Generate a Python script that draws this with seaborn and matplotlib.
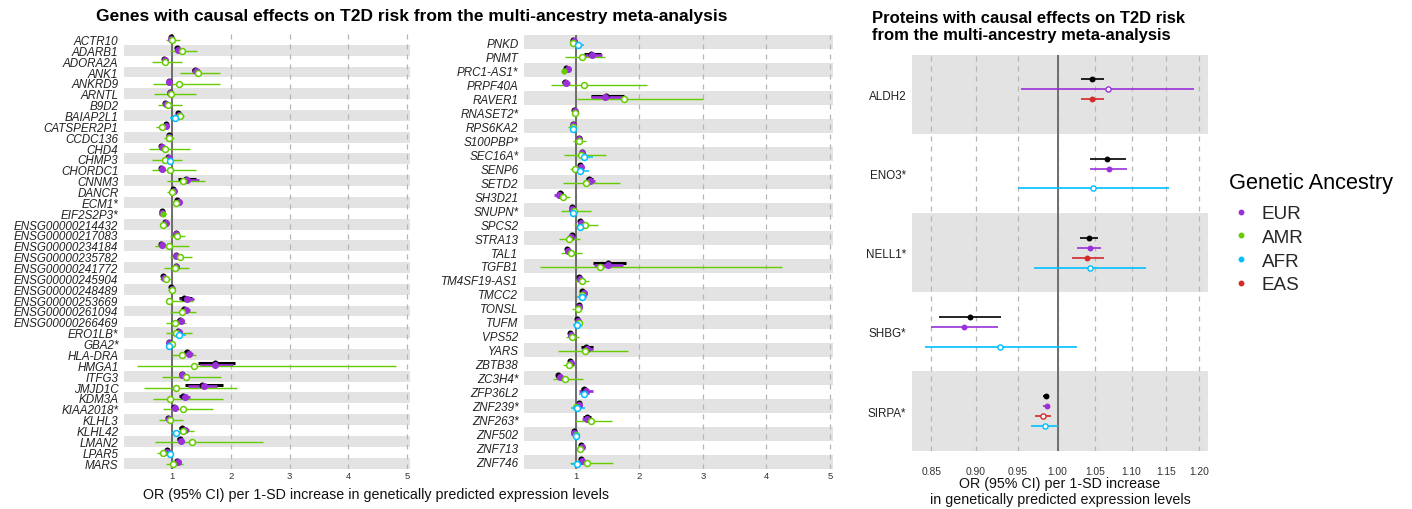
import numpy as np
import pandas as pd
import matplotlib
matplotlib.use("Agg")
import matplotlib.pyplot as plt
from matplotlib.lines import Line2D
import seaborn as sns

sns.set_theme(style="white")
plt.rcParams['font.family'] = ['Liberation Sans', 'DejaVu Sans']

nan = np.nan

# ---------------- Panel 1 (genes A-M) ----------------
genes1 = ["ACTR10", "ADARB1", "ADORA2A", "ANK1", "ANKRD9", "ARNTL", "B9D2", "BAIAP2L1",
          "CATSPER2P1", "CCDC136", "CHD4", "CHMP3", "CHORDC1", "CNNM3", "DANCR", "ECM1*",
          "EIF2S2P3*", "ENSG00000214432", "ENSG00000217083", "ENSG00000234184",
          "ENSG00000235782", "ENSG00000241772", "ENSG00000245904", "ENSG00000248489",
          "ENSG00000253669", "ENSG00000261094", "ENSG00000266469", "ERO1LB*", "GBA2*",
          "HLA-DRA", "HMGA1", "ITFG3", "JMJD1C", "KDM3A", "KIAA2018*", "KLHL3", "KLHL42",
          "LMAN2", "LPAR5", "MARS"]
meta1_or = [0.98, 1.08, 0.86, 1.39, 0.94, 0.96, 0.88, 1.10, 0.89, 0.94, 0.81, 0.93, 0.81, 1.24, 1.02, 1.09,
            0.83, 0.88, 1.06, 0.81, 1.06, 1.06, 0.85, 0.98, 1.20, 1.20, 1.13, 1.10, 0.94, 1.26, 1.73, 1.16,
            1.50, 1.19, 1.03, 0.93, 1.16, 1.13, 0.91, 1.09]
meta1_lo = [0.95, 1.04, 0.83, 1.33, 0.91, 0.93, 0.85, 1.07, 0.86, 0.91, 0.78, 0.90, 0.78, 1.10, 0.99, 1.06,
            0.81, 0.85, 1.03, 0.78, 1.03, 1.03, 0.82, 0.95, 1.12, 1.15, 1.09, 1.07, 0.91, 1.21, 1.44, 1.12,
            1.22, 1.12, 1.00, 0.90, 1.11, 1.09, 0.88, 1.06]
meta1_hi = [1.01, 1.12, 0.89, 1.45, 0.97, 0.99, 0.91, 1.13, 0.92, 0.97, 0.84, 0.96, 0.84, 1.41, 1.05, 1.12,
            0.86, 0.91, 1.09, 0.84, 1.09, 1.09, 0.88, 1.01, 1.34, 1.26, 1.17, 1.13, 0.97, 1.31, 2.07, 1.20,
            1.86, 1.26, 1.06, 0.96, 1.21, 1.17, 0.94, 1.12]
eur1_or = [0.985, 1.10, 0.87, 1.41, 0.95, 0.97, 0.89, 1.11, 0.90, 0.95, 0.82, 0.94, 0.82, 1.26, 1.03, 1.11,
           0.835, 0.89, 1.07, 0.82, 1.07, 1.07, 0.86, 0.99, 1.26, 1.23, 1.15, 1.11, 0.95, 1.29, 1.73, 1.17,
           1.55, 1.22, 1.04, 0.94, 1.22, 1.15, 0.92, 1.10]
eur1_lo = [0.95, 1.05, 0.83, 1.34, 0.91, 0.93, 0.85, 1.07, 0.86, 0.92, 0.78, 0.90, 0.78, 1.13, 0.99, 1.07,
           0.81, 0.86, 1.03, 0.78, 1.03, 1.03, 0.82, 0.95, 1.13, 1.17, 1.10, 1.07, 0.92, 1.23, 1.47, 1.13,
           1.27, 1.14, 1.00, 0.90, 1.13, 1.10, 0.88, 1.06]
eur1_hi = [1.02, 1.14, 0.90, 1.48, 0.98, 1.00, 0.92, 1.15, 0.93, 0.98, 0.86, 0.97, 0.86, 1.45, 1.06, 1.15,
           0.86, 0.92, 1.11, 0.86, 1.11, 1.11, 0.90, 1.02, 1.38, 1.30, 1.20, 1.15, 0.98, 1.35, 2.04, 1.22,
           1.76, 1.30, 1.08, 0.97, 1.28, 1.20, 0.95, 1.14]
amr1_or = [1.00, 1.165, 0.875, 1.44, 1.11, 0.98, 0.93, 1.13, 0.83, 0.95, 0.88, 0.875, 0.96, 1.18, 0.99, 1.06,
           0.84, 0.85, 1.08, 0.95, 1.14, 1.04, 0.90, 1.00, 0.95, 1.165, 1.04, 1.06, 0.99, 1.17, 1.375, 1.23,
           1.06, 0.97, 1.19, 0.955, 1.19, 1.335, 0.84, 1.02]
amr1_lo = [0.89, 0.97, 0.66, 1.13, 0.68, 0.69, 0.76, 1.05, 0.73, 0.86, 0.60, 0.66, 0.66, 0.91, 0.92, 1.00,
           0.79, 0.80, 0.96, 0.71, 0.97, 0.86, 0.80, 0.93, 0.89, 0.97, 0.89, 0.89, 0.94, 0.99, 0.40, 0.83,
           0.52, 0.68, 0.85, 0.78, 1.02, 0.71, 0.74, 0.89]
amr1_hi = [1.13, 1.43, 1.16, 1.81, 1.82, 1.40, 1.16, 1.20, 0.88, 1.03, 1.31, 1.16, 1.41, 1.56, 1.04, 1.13,
           0.89, 0.90, 1.22, 1.28, 1.34, 1.28, 0.98, 1.05, 1.36, 1.41, 1.23, 1.33, 1.02, 1.41, 4.82, 1.84,
           2.11, 1.86, 1.69, 1.18, 1.375, 2.55, 0.89, 1.18]
amr1_filled = ["EIF2S2P3*"]
afr1_genes = ["BAIAP2L1", "CHMP3", "ERO1LB*", "GBA2*", "KLHL42", "LPAR5"]
afr1_or = [1.04, 0.955, 1.125, 0.94, 1.07, 0.96]
afr1_lo = [0.97, 0.92, 1.02, 0.90, 0.98, 0.90]
afr1_hi = [1.07, 0.99, 1.23, 0.97, 1.16, 1.02]

# ---------------- Panel 2 (genes P-Z) ----------------
genes2 = ["PNKD", "PNMT", "PRC1-AS1*", "PRPF40A", "RAVER1", "RNASET2*", "RPS6KA2", "S100PBP*", "SEC16A*",
          "SENP6", "SETD2", "SH3D21", "SNUPN*", "SPCS2", "STRA13", "TAL1", "TGFB1", "TM4SF19-AS1", "TMCC2",
          "TONSL", "TUFM", "VPS52", "YARS", "ZBTB38", "ZC3H4*", "ZFP36L2", "ZNF239*", "ZNF263*", "ZNF502",
          "ZNF713", "ZNF746"]
meta2_or = [0.96, 1.23, 0.84, 0.82, 1.48, 0.97, 0.96, 1.04, 1.09, 1.07, 1.21, 0.75, 0.93, 1.07, 0.93, 0.86,
            1.50, 1.05, 1.10, 1.05, 1.02, 0.91, 1.16, 0.91, 0.72, 1.13, 1.04, 1.17, 0.97, 1.08, 1.08]
meta2_lo = [0.94, 1.12, 0.81, 0.78, 1.24, 0.95, 0.94, 1.02, 1.06, 1.04, 1.16, 0.70, 0.90, 1.04, 0.90, 0.83,
            1.26, 1.02, 1.06, 1.02, 1.00, 0.88, 1.08, 0.89, 0.68, 1.08, 1.01, 1.11, 0.95, 1.05, 1.05]
meta2_hi = [0.99, 1.39, 0.87, 0.88, 1.75, 0.99, 0.99, 1.07, 1.12, 1.10, 1.27, 0.79, 0.96, 1.10, 0.96, 0.89,
            1.79, 1.08, 1.14, 1.08, 1.05, 0.94, 1.27, 0.94, 0.77, 1.18, 1.07, 1.23, 0.99, 1.11, 1.11]
eur2_or = [0.97, 1.25, 0.87, 0.84, 1.455, 0.98, 0.96, 1.045, 1.09, 1.075, 1.22, 0.73, 0.93, 1.075, 0.92, 0.87,
           1.50, 1.06, 1.13, 1.05, 1.03, 0.92, 1.18, 0.915, 0.74, 1.15, 1.045, 1.17, 0.97, 1.10, 1.09]
eur2_lo = [0.94, 1.14, 0.83, 0.79, 1.23, 0.95, 0.93, 1.02, 1.06, 1.04, 1.16, 0.66, 0.90, 1.04, 0.89, 0.83,
           1.29, 1.02, 1.08, 1.02, 1.00, 0.88, 1.09, 0.89, 0.69, 1.05, 1.01, 1.10, 0.95, 1.06, 1.05]
eur2_hi = [1.00, 1.41, 0.90, 0.90, 1.73, 1.00, 0.99, 1.08, 1.13, 1.11, 1.30, 0.79, 0.97, 1.11, 0.96, 0.91,
           1.74, 1.09, 1.18, 1.09, 1.06, 0.95, 1.27, 0.94, 0.79, 1.27, 1.08, 1.24, 0.99, 1.13, 1.13]
amr2_or = [0.96, 1.09, 0.81, 1.13, 1.75, 0.98, 0.95, 1.05, 1.08, 0.99, 1.16, 0.80, 0.97, 1.14, 0.885, 0.92,
           1.37, 1.09, 1.09, 1.03, 1.04, 0.94, 1.14, 0.89, 0.83, nan, 0.995, 1.24, 0.995, 1.06, 1.18]
amr2_lo = [0.93, 0.82, 0.77, 0.61, 1.02, 0.94, 0.88, 0.95, 0.81, 0.91, 0.80, 0.72, 0.77, 0.97, 0.73, 0.76,
           0.44, 0.99, 1.04, 0.94, 0.98, 0.84, 0.71, 0.80, 0.63, nan, 0.95, 0.98, 0.97, 1.03, 0.90]
amr2_hi = [1.00, 1.46, 0.84, 2.12, 3.00, 1.04, 0.99, 1.15, 1.48, 1.04, 1.69, 0.90, 1.23, 1.34, 1.06, 1.09,
           4.24, 1.20, 1.14, 1.10, 1.09, 1.05, 1.82, 0.99, 1.11, nan, 1.04, 1.57, 1.02, 1.09, 1.59]
amr2_filled = ["PRC1-AS1*"]
afr2_genes = ["PNKD", "RPS6KA2", "SEC16A*", "SENP6", "SNUPN*", "SPCS2", "TMCC2", "TUFM", "ZFP36L2",
              "ZNF239*", "ZNF502", "ZNF746"]
afr2_or = [1.03, 0.95, 1.13, 1.07, 0.96, 1.07, 1.09, 1.02, 1.12, 1.02, 1.00, 1.01]
afr2_lo = [0.97, 0.92, 1.05, 1.00, 0.90, 1.02, 1.02, 0.95, 1.04, 0.92, 0.97, 0.92]
afr2_hi = [1.13, 0.98, 1.26, 1.20, 1.00, 1.12, 1.17, 1.10, 1.22, 1.14, 1.03, 1.10]

# ---------------- Panel 3 (proteins) ----------------
proteins = ["ALDH2", "ENO3*", "NELL1*", "SHBG*", "SIRPA*"]
meta3_or = [1.046, 1.066, 1.041, 0.894, 0.985]
meta3_lo = [1.031, 1.042, 1.029, 0.859, 0.981]
meta3_hi = [1.061, 1.092, 1.054, 0.930, 0.988]
eur3_or = [1.067, 1.068, 1.042, 0.887, 0.986]
eur3_lo = [0.954, 1.043, 1.026, 0.850, 0.981]
eur3_hi = [1.192, 1.094, 1.058, 0.926, 0.991]
eur3_open = ["ALDH2"]
eas3_genes = ["ALDH2", "NELL1*", "SIRPA*"]
eas3_or = [1.045, 1.039, 0.981]
eas3_lo = [1.031, 1.019, 0.972]
eas3_hi = [1.061, 1.061, 0.992]
eas3_open = ["SIRPA*"]
afr3_genes = ["ENO3*", "NELL1*", "SHBG*", "SIRPA*"]
afr3_or = [1.047, 1.043, 0.929, 0.984]
afr3_lo = [0.951, 0.970, 0.843, 0.966]
afr3_hi = [1.154, 1.121, 1.025, 1.001]

legend_labels = ["EUR", "AMR", "AFR", "EAS"]
colors = {"Meta": "black", "EUR": "#9B30D9", "AMR": "#66CC00", "AFR": "#00BFFF", "EAS": "#D42A2A"}


def frame(group, names, o, lo, hi, all_names, open_default, exceptions):
    d = pd.DataFrame({"gene": names, "or": o, "lo": lo, "hi": hi})
    d = d.dropna()
    d["group"] = group
    d["row"] = [all_names.index(g) for g in d["gene"]]
    if open_default:
        d["open"] = [g not in exceptions for g in d["gene"]]
    else:
        d["open"] = [g in exceptions for g in d["gene"]]
    return d


def draw(ax, df, names, order, offsets, style, stripe_odd, xlim, xticks, xticklabels, logx=False,
         italic=True, ylab_size=8.4):
    n = len(names)
    for i in range(n):
        if (i % 2 == 1) == stripe_odd:
            ax.axhspan(i - 0.5, i + 0.5, color="#E3E3E3", zorder=0, lw=0)
    if logx:
        ax.set_xscale("log")
    for gx in xticks:
        ax.axvline(gx, color="#B5B5B5", lw=0.9, ls=(0, (4, 4)), zorder=1)
    ax.axvline(1.0, color="#6E6E6E", lw=1.4, zorder=2)
    for grp in order:
        sub = df[df["group"] == grp].copy()
        if sub.empty:
            continue
        sub["ypos"] = sub["row"] + offsets[grp]
        lw, s_fill, s_open, elw = style[grp]
        ax.hlines(sub["ypos"], sub["lo"], sub["hi"], color=colors[grp], lw=lw, zorder=3)
        filled = sub[~sub["open"]]
        opened = sub[sub["open"]]
        if not filled.empty:
            sns.scatterplot(data=filled, x="or", y="ypos", color=colors[grp], s=s_fill, linewidth=0,
                            legend=False, ax=ax, zorder=4)
        if not opened.empty:
            sns.scatterplot(data=opened, x="or", y="ypos", facecolor="white", edgecolor=colors[grp],
                            s=s_open, linewidth=elw, legend=False, ax=ax, zorder=4)
    ax.set_xlim(*xlim)
    ax.set_ylim(n - 0.5, -0.5)
    ax.set_yticks(range(n))
    ax.set_yticklabels(names, fontsize=ylab_size, color="#222222",
                       style="italic" if italic else "normal")
    ax.set_xticks(xticks)
    ax.set_xticklabels(xticklabels)
    ax.minorticks_off()
    ax.set_xlabel("")
    ax.set_ylabel("")
    for sp in ax.spines.values():
        sp.set_visible(False)
    ax.grid(False)


fig = plt.figure(figsize=(14.12, 5.10), dpi=100)
W, H = 1412.0, 510.0


def add_axes(l, r, t, b):
    return fig.add_axes([l / W, (H - b) / H, (r - l) / W, (b - t) / H])


ax1 = add_axes(124, 410, 35, 469.5)
ax2 = add_axes(524, 833, 36.3, 469.7)
ax3 = add_axes(911.7, 1208.3, 55.7, 451.7)

off = {"Meta": -0.1875, "EUR": -0.0625, "AMR": 0.0625, "EAS": 0.0625, "AFR": 0.1875}
style_lr = {"Meta": (2.2, 19, 19, 0), "EUR": (2.0, 26, 26, 0), "AMR": (1.0, 20, 18, 1.1),
            "AFR": (1.1, 20, 18, 1.1)}
style_r = {"Meta": (1.2, 18, 18, 0), "EUR": (1.2, 18, 14, 1.0), "EAS": (1.2, 18, 14, 1.0),
           "AFR": (1.2, 18, 14, 1.0)}

df1 = pd.concat([
    frame("Meta", genes1, meta1_or, meta1_lo, meta1_hi, genes1, False, []),
    frame("EUR", genes1, eur1_or, eur1_lo, eur1_hi, genes1, False, []),
    frame("AMR", genes1, amr1_or, amr1_lo, amr1_hi, genes1, True, amr1_filled),
    frame("AFR", afr1_genes, afr1_or, afr1_lo, afr1_hi, genes1, True, []),
])
df2 = pd.concat([
    frame("Meta", genes2, meta2_or, meta2_lo, meta2_hi, genes2, False, []),
    frame("EUR", genes2, eur2_or, eur2_lo, eur2_hi, genes2, False, []),
    frame("AMR", genes2, amr2_or, amr2_lo, amr2_hi, genes2, True, amr2_filled),
    frame("AFR", afr2_genes, afr2_or, afr2_lo, afr2_hi, genes2, True, []),
])
df3 = pd.concat([
    frame("Meta", proteins, meta3_or, meta3_lo, meta3_hi, proteins, False, []),
    frame("EUR", proteins, eur3_or, eur3_lo, eur3_hi, proteins, False, eur3_open),
    frame("EAS", eas3_genes, eas3_or, eas3_lo, eas3_hi, proteins, False, eas3_open),
    frame("AFR", afr3_genes, afr3_or, afr3_lo, afr3_hi, proteins, True, []),
])

lin_ticks = [1, 2, 3, 4, 5]
draw(ax1, df1, genes1, ["Meta", "EUR", "AMR", "AFR"], off, style_lr, True, (0.18, 5.05),
     lin_ticks, [str(t) for t in lin_ticks])
draw(ax2, df2, genes2, ["Meta", "EUR", "AMR", "AFR"], off, style_lr, False, (0.18, 5.05),
     lin_ticks, [str(t) for t in lin_ticks])
log_ticks = [0.85, 0.90, 0.95, 1.00, 1.05, 1.10, 1.15, 1.20]
draw(ax3, df3, proteins, ["Meta", "EUR", "EAS", "AFR"], off, style_r, False, (0.829, 1.214),
     log_ticks, [f"{t:.2f}" for t in log_ticks], logx=True, italic=False)

for ax in (ax1, ax2):
    ax.tick_params(axis="x", length=0, pad=2, labelsize=6.8, labelcolor="#333333")
    ax.tick_params(axis="y", length=0, pad=4)
ax3.tick_params(axis="x", length=0, pad=11, labelsize=7.4, labelcolor="#333333")
ax3.tick_params(axis="y", length=0, pad=4)

fig.text(412 / W, 1 - 17 / H, "Genes with causal effects on T2D risk from the multi-ancestry meta-analysis",
         ha="center", va="center", fontsize=12.5, fontweight="bold", color="black")
fig.text(376 / W, 1 - 495.5 / H, "OR (95% CI) per 1-SD increase in genetically predicted expression levels",
         ha="center", va="center", fontsize=10.3, color="#111111")
fig.text(872 / W, 1 - 27 / H, "Proteins with causal effects on T2D risk\nfrom the multi-ancestry meta-analysis",
         ha="left", va="center", fontsize=12.0, fontweight="bold", color="black", linespacing=1.1)
fig.text(1060 / W, 1 - 492 / H, "OR (95% CI) per 1-SD increase\nin genetically predicted expression levels",
         ha="center", va="center", fontsize=10.3, color="#111111", linespacing=1.15)

fig.text(1229 / W, 1 - 183 / H, "Genetic Ancestry", ha="left", va="center", fontsize=15.7, color="black")
handles = [Line2D([], [], marker="o", ls="", color=colors[k], markersize=3.2) for k in legend_labels]
fig.legend(handles, legend_labels, loc="upper left",
           bbox_to_anchor=(1229 / W, 1 - 206 / H), frameon=False, fontsize=13.6,
           borderpad=0, handlelength=1.24, handletextpad=0.49, labelspacing=0.34,
           borderaxespad=0)

fig.savefig("out.png", dpi=100)
